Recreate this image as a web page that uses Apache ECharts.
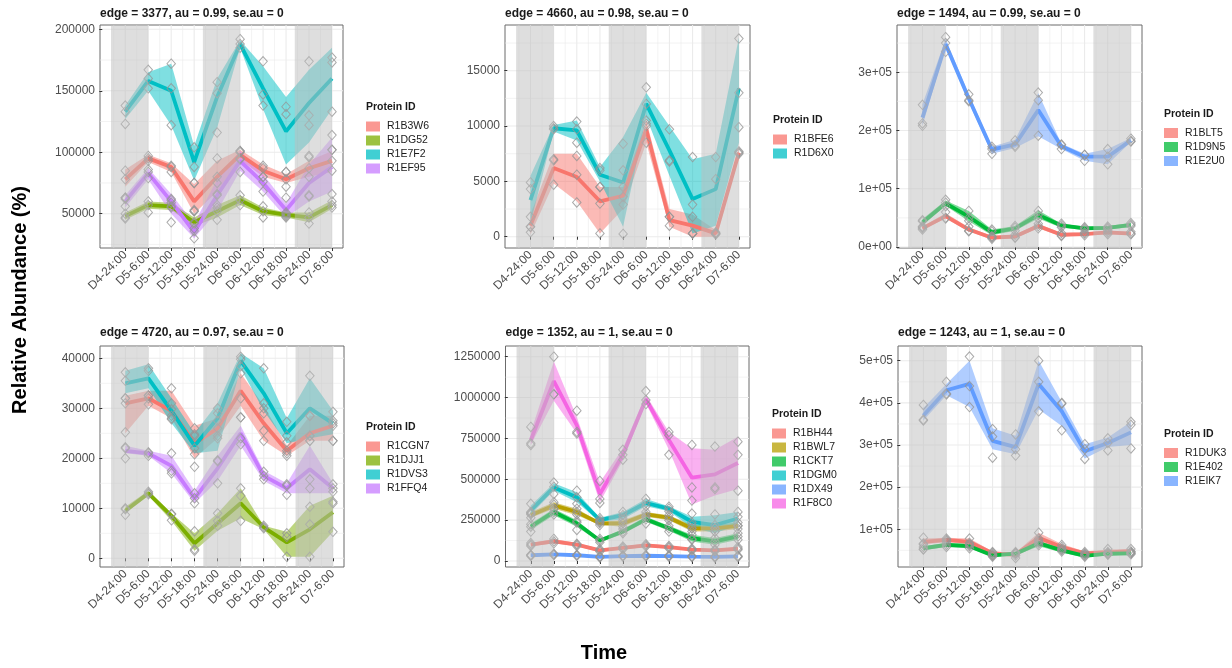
<!DOCTYPE html>
<html>
<head>
<meta charset="utf-8">
<script src="https://cdn.jsdelivr.net/npm/echarts@6/dist/echarts.min.js"></script>
<style>
html, body { margin: 0; padding: 0; background: #fff; }
#chart { width: 1232px; height: 668px; }
</style>
</head>
<body>
<div id="chart"></div>
<script>
// shared x axis
const times = ['D4-24:00', 'D5-6:00', 'D5-12:00', 'D5-18:00', 'D5-24:00', 'D6-6:00', 'D6-12:00', 'D6-18:00', 'D6-24:00', 'D7-6:00'];
const xTicks = [1, 2, 3, 4, 5, 6, 7, 8, 9, 10];
const xMinor = [0.5, 1.5, 2.5, 3.5, 4.5, 5.5, 6.5, 7.5, 8.5, 9.5];
const nightBands = [[0.38, 2], [4.38, 6], [8.38, 10]];

// panel 1
const p1Title = 'edge = 3377, au = 0.99, se.au = 0';
const p1Ids = ['R1B3W6', 'R1DG52', 'R1E7F2', 'R1EF95'];
const p1Mean = [
  [78000, 95000, 88000, 60000, 80000, 98000, 85000, 78000, 87000, 93000],
  [48000, 57000, 56000, 43000, 52000, 61000, 52000, 49000, 47000, 57000],
  [133000, 158000, 150000, 92000, 145000, 188000, 152000, 117000, 140000, 160000],
  [60000, 83000, 60000, 35000, 65000, 93000, 75000, 53000, 75000, 88000]
];
const p1Lo = [
  [72000, 92000, 84000, 50000, 68000, 94000, 80000, 75000, 80000, 84000],
  [45000, 54000, 53000, 40000, 47000, 57000, 49000, 47000, 43000, 54000],
  [127000, 150000, 122000, 77000, 120000, 185000, 135000, 90000, 108000, 135000],
  [55000, 78000, 50000, 30000, 52000, 85000, 68000, 47000, 60000, 68000]
];
const p1Hi = [
  [86000, 98000, 91000, 74000, 93000, 102000, 90000, 82000, 93000, 101000],
  [51000, 60000, 59000, 47000, 57000, 65000, 55000, 51000, 51000, 61000],
  [138000, 165000, 172000, 105000, 160000, 191000, 170000, 145000, 167000, 185000],
  [65000, 87000, 66000, 42000, 78000, 101000, 82000, 58000, 90000, 112000]
];
const p1Pts = [
  [[85000, 78000, 63000], [97000, 95000, 93000], [89000, 88000, 84000], [75000, 52000, 53000], [95000, 80000, 66000], [101000, 100000, 95000], [89000, 87000, 80000], [84000, 78000, 72000], [97000, 87000, 80000], [102000, 93000, 85000]],
  [[50000, 47000, 46000], [60000, 57000, 51000], [59000, 56000, 55000], [52000, 43000, 42000], [57000, 52000, 45000], [65000, 61000, 57000], [56000, 52000, 47000], [51000, 49000, 48000], [51000, 47000, 42000], [60000, 57000, 55000]],
  [[138000, 133000, 123000], [167000, 160000, 152000], [172000, 152000, 122000], [104000, 88000, 75000], [157000, 148000, 116000], [192000, 188000, 185000], [174000, 147000, 138000], [137000, 131000, 84000], [174000, 130000, 122000], [177000, 173000, 133000]],
  [[63000, 62000, 56000], [86000, 84000, 79000], [62000, 61000, 43000], [38000, 36000, 30000], [75000, 65000, 55000], [101000, 94000, 84000], [80000, 76000, 68000], [63000, 50000, 47000], [96000, 65000, 64000], [114000, 102000, 66000]]
];
const p1YTicks = [50000, 100000, 150000, 200000];
const p1YLabels = ['50000', '100000', '150000', '200000'];
const p1YMinor = [25000, 75000, 125000, 175000];

// panel 2
const p2Title = 'edge = 4660, au = 0.98, se.au = 0';
const p2Ids = ['R1BFE6', 'R1D6X0'];
const p2Mean = [
  [1000, 6200, 5400, 3200, 3700, 9700, 1500, 1000, 300, 7600],
  [3300, 9800, 9600, 5600, 4900, 12000, 7800, 3400, 4300, 13400]
];
const p2Lo = [
  [200, 4800, 3200, 300, 2500, 8500, 900, 0, 0, 7300],
  [1200, 9500, 8700, 5000, 900, 10800, 5500, 300, 1000, 8500]
];
const p2Hi = [
  [2000, 7500, 7500, 4500, 4500, 10500, 2500, 2000, 600, 8000],
  [5500, 10100, 10500, 6300, 9000, 13000, 10000, 7000, 7500, 18000]
];
const p2Pts = [
  [[1800, 900, 400], [7000, 6900, 4700], [7300, 5600, 3100], [4500, 3000, 300], [4500, 3600, 2900], [10200, 10000, 8500], [1800, 1800, 1000], [1800, 300, 300], [400, 300, 200], [7700, 7600, 7500]],
  [[4900, 4300, 900], [10000, 9800, 9700], [10400, 9700, 8500], [6200, 6000, 4500], [8400, 6000, 250], [13500, 12000, 10500], [9700, 6900, 6800], [7200, 2900, 300], [7200, 5200, 300], [17900, 13000, 9900]]
];
const p2YTicks = [0, 5000, 10000, 15000];
const p2YLabels = ['0', '5000', '10000', '15000'];
const p2YMinor = [2500, 7500, 12500, 17500];

// panel 3
const p3Title = 'edge = 1494, au = 0.99, se.au = 0';
const p3Ids = ['R1BLT5', 'R1D9N5', 'R1E2U0'];
const p3Mean = [
  [32000, 53000, 30000, 16000, 18000, 36000, 21000, 22000, 25000, 23000],
  [42000, 75000, 52000, 25000, 32000, 55000, 37000, 32000, 33000, 38000],
  [222000, 348000, 255000, 167000, 176000, 235000, 173000, 155000, 155000, 183000]
];
const p3Lo = [
  [30000, 49000, 27000, 13000, 15000, 32000, 18000, 20000, 22000, 20000],
  [37000, 71000, 44000, 20000, 28000, 49000, 33000, 29000, 30000, 34000],
  [208000, 343000, 248000, 160000, 170000, 190000, 168000, 148000, 142000, 180000]
];
const p3Hi = [
  [35000, 58000, 34000, 19000, 21000, 40000, 24000, 25000, 28000, 26000],
  [48000, 80000, 62000, 30000, 36000, 63000, 40000, 35000, 36000, 41000],
  [245000, 357000, 262000, 172000, 184000, 264000, 177000, 160000, 168000, 187000]
];
const p3Pts = [
  [[35000, 32000, 30000], [60000, 50000, 49000], [35000, 28000, 27000], [18000, 16000, 14000], [21000, 17000, 16000], [40000, 36000, 32000], [24000, 20000, 19000], [25000, 23000, 20000], [28000, 25000, 22000], [26000, 23000, 22000]],
  [[46000, 44000, 34000], [81000, 76000, 70000], [62000, 50000, 45000], [30000, 27000, 18000], [36000, 33000, 28000], [62000, 55000, 49000], [40000, 37000, 34000], [34000, 32000, 30000], [35000, 33000, 31000], [41000, 38000, 36000]],
  [[244000, 212000, 208000], [360000, 350000, 335000], [262000, 250000, 252000], [168000, 172000, 160000], [183000, 172000, 174000], [265000, 252000, 191000], [175000, 168000, 176000], [158000, 148000, 158000], [168000, 155000, 142000], [186000, 181000, 182000]]
];
const p3YTicks = [0, 100000, 200000, 300000];
const p3YLabels = ['0e+00', '1e+05', '2e+05', '3e+05'];
const p3YMinor = [50000, 150000, 250000, 350000];

// panel 4
const p4Title = 'edge = 4720, au = 0.97, se.au = 0';
const p4Ids = ['R1CGN7', 'R1DJJ1', 'R1DVS3', 'R1FFQ4'];
const p4Mean = [
  [31000, 32000, 29500, 23000, 26000, 33500, 27000, 21500, 25000, 26500],
  [9500, 13000, 8500, 3000, 7000, 11000, 6200, 3200, 5800, 9200],
  [35000, 36000, 29500, 22500, 28000, 39500, 33000, 25000, 30000, 27000],
  [21500, 21000, 18500, 12000, 18000, 25000, 16500, 14000, 17800, 14000]
];
const p4Lo = [
  [25000, 30500, 28000, 20000, 24000, 30500, 23500, 20500, 23500, 23500],
  [9000, 12500, 7500, 1500, 5500, 8000, 5800, 300, 300, 5300],
  [33000, 34000, 27000, 21000, 21500, 38000, 29500, 23000, 24000, 24800],
  [21000, 20500, 17000, 11000, 15500, 22500, 15500, 13000, 13000, 13000]
];
const p4Hi = [
  [32500, 33500, 33500, 26500, 28000, 37000, 30500, 22500, 28500, 28500],
  [10300, 13500, 9000, 5000, 9000, 14000, 6500, 5300, 10500, 12500],
  [37500, 38800, 32000, 25000, 31000, 41000, 38000, 28000, 36000, 29500],
  [22500, 21500, 20500, 13500, 20500, 26500, 17500, 15000, 22500, 15000]
];
const p4Pts = [
  [[32000, 31000, 25200], [32500, 32000, 30800], [34000, 28500, 28000], [26000, 24500, 18300], [27500, 26000, 24000], [37000, 32000, 28200], [30000, 25500, 23500], [21500, 21000, 20500], [28500, 24500, 23500], [27500, 26500, 23500]],
  [[10000, 9800, 8700], [13300, 13000, 12800], [8900, 8800, 7600], [5400, 1800, 1500], [9000, 7500, 6500], [14000, 12500, 7500], [6500, 6200, 6000], [5000, 4300, 300], [10300, 6800, 300], [11300, 11000, 5300]],
  [[37200, 35500, 32000], [38000, 37500, 32600], [31000, 29800, 27800], [24800, 22000, 20800], [29000, 30000, 24500], [40300, 39800, 38400], [38000, 31000, 29000], [27300, 24500, 23200], [36500, 28500, 24500], [29300, 27000, 23500]],
  [[22200, 22000, 20000], [21200, 21000, 20500], [21000, 17500, 17000], [13000, 12000, 11000], [19400, 19600, 15000], [28200, 24000, 22800], [17300, 16500, 15800], [14800, 14500, 12700], [23500, 15800, 14000], [14800, 14000, 13300]]
];
const p4YTicks = [0, 10000, 20000, 30000, 40000];
const p4YLabels = ['0', '10000', '20000', '30000', '40000'];
const p4YMinor = [5000, 15000, 25000, 35000];

// panel 5
const p5Title = 'edge = 1352, au = 1, se.au = 0';
const p5Ids = ['R1BH44', 'R1BWL7', 'R1CKT7', 'R1DGM0', 'R1DX49', 'R1F8C0'];
const p5Mean = [
  [100000, 120000, 100000, 65000, 80000, 95000, 85000, 70000, 65000, 75000],
  [280000, 340000, 300000, 230000, 230000, 285000, 265000, 200000, 200000, 215000],
  [210000, 300000, 230000, 125000, 180000, 255000, 200000, 140000, 120000, 150000],
  [310000, 450000, 390000, 250000, 280000, 355000, 320000, 240000, 220000, 260000],
  [35000, 40000, 35000, 25000, 30000, 32000, 30000, 27000, 25000, 28000],
  [740000, 1100000, 830000, 410000, 650000, 990000, 740000, 510000, 530000, 600000]
];
const p5Lo = [
  [90000, 108000, 90000, 55000, 70000, 85000, 75000, 62000, 58000, 66000],
  [265000, 320000, 280000, 220000, 210000, 270000, 250000, 180000, 180000, 195000],
  [190000, 280000, 210000, 115000, 165000, 240000, 185000, 120000, 100000, 130000],
  [285000, 430000, 360000, 240000, 255000, 335000, 305000, 205000, 170000, 220000],
  [30000, 35000, 30000, 20000, 25000, 27000, 25000, 22000, 20000, 23000],
  [710000, 980000, 780000, 360000, 615000, 965000, 680000, 345000, 400000, 440000]
];
const p5Hi = [
  [110000, 135000, 110000, 75000, 90000, 105000, 95000, 78000, 72000, 85000],
  [300000, 360000, 320000, 240000, 250000, 300000, 280000, 220000, 220000, 235000],
  [230000, 320000, 250000, 135000, 195000, 270000, 215000, 160000, 140000, 170000],
  [340000, 475000, 420000, 265000, 300000, 380000, 335000, 270000, 280000, 300000],
  [40000, 45000, 40000, 30000, 35000, 37000, 35000, 32000, 30000, 33000],
  [790000, 1220000, 880000, 480000, 690000, 1015000, 790000, 690000, 680000, 760000]
];
const p5Pts = [
  [[110000, 100000, 92000], [135000, 120000, 108000], [105000, 100000, 92000], [72000, 65000, 58000], [88000, 80000, 72000], [103000, 96000, 88000], [92000, 85000, 78000], [76000, 70000, 64000], [71000, 65000, 60000], [85000, 75000, 68000]],
  [[295000, 285000, 265000], [360000, 345000, 320000], [320000, 300000, 285000], [240000, 232000, 220000], [250000, 232000, 210000], [300000, 285000, 270000], [280000, 265000, 250000], [220000, 200000, 180000], [220000, 200000, 180000], [235000, 215000, 195000]],
  [[225000, 210000, 180000], [320000, 300000, 285000], [245000, 235000, 190000], [135000, 125000, 115000], [195000, 180000, 170000], [270000, 255000, 230000], [215000, 200000, 180000], [160000, 135000, 130000], [140000, 120000, 100000], [170000, 150000, 130000]],
  [[350000, 300000, 290000], [480000, 455000, 410000], [430000, 390000, 350000], [262000, 250000, 240000], [300000, 280000, 262000], [380000, 355000, 335000], [332000, 320000, 305000], [290000, 235000, 200000], [285000, 200000, 180000], [300000, 270000, 215000]],
  [[38000, 35000, 31000], [44000, 40000, 36000], [38000, 35000, 32000], [28000, 25000, 22000], [33000, 30000, 27000], [36000, 32000, 28000], [34000, 30000, 26000], [30000, 27000, 24000], [28000, 25000, 22000], [31000, 28000, 25000]],
  [[820000, 720000, 710000], [1250000, 1020000, 1020000], [920000, 790000, 780000], [490000, 380000, 355000], [680000, 650000, 620000], [1040000, 985000, 960000], [770000, 790000, 650000], [710000, 450000, 370000], [700000, 440000, 450000], [730000, 650000, 430000]]
];
const p5YTicks = [0, 250000, 500000, 750000, 1000000, 1250000];
const p5YLabels = ['0', '250000', '500000', '750000', '1000000', '1250000'];
const p5YMinor = [125000, 375000, 625000, 875000, 1125000];

// panel 6
const p6Title = 'edge = 1243, au = 1, se.au = 0';
const p6Ids = ['R1DUK3', 'R1E402', 'R1EIK7'];
const p6Mean = [
  [70000, 75000, 70000, 43000, 40000, 80000, 58000, 43000, 45000, 48000],
  [55000, 63000, 60000, 38000, 42000, 67000, 50000, 37000, 42000, 43000],
  [370000, 430000, 445000, 310000, 295000, 445000, 380000, 285000, 305000, 330000]
];
const p6Lo = [
  [64000, 70000, 64000, 38000, 34000, 70000, 50000, 38000, 40000, 44000],
  [50000, 58000, 55000, 35000, 38000, 60000, 45000, 33000, 38000, 40000],
  [358000, 418000, 390000, 290000, 278000, 385000, 345000, 268000, 295000, 300000]
];
const p6Hi = [
  [78000, 80000, 78000, 47000, 45000, 92000, 65000, 47000, 52000, 53000],
  [60000, 68000, 65000, 42000, 46000, 73000, 55000, 41000, 46000, 46000],
  [388000, 445000, 500000, 340000, 322000, 500000, 402000, 302000, 318000, 355000]
];
const p6Pts = [
  [[80000, 66000, 64000], [78000, 75000, 72000], [78000, 68000, 64000], [46000, 44000, 38000], [44000, 43000, 32000], [92000, 78000, 70000], [63000, 58000, 52000], [46000, 43000, 40000], [53000, 44000, 40000], [53000, 47000, 44000]],
  [[58000, 53000, 52000], [68000, 63000, 58000], [64000, 60000, 55000], [41000, 38000, 35000], [46000, 42000, 38000], [73000, 66000, 62000], [54000, 50000, 47000], [40000, 37000, 35000], [46000, 42000, 40000], [46000, 43000, 41000]],
  [[395000, 360000, 358000], [450000, 420000, 422000], [510000, 440000, 390000], [338000, 320000, 270000], [325000, 290000, 275000], [500000, 450000, 380000], [400000, 398000, 335000], [302000, 290000, 267000], [316000, 305000, 287000], [355000, 348000, 292000]]
];
const p6YTicks = [100000, 200000, 300000, 400000, 500000];
const p6YLabels = ['1e+05', '2e+05', '3e+05', '4e+05', '5e+05'];
const p6YMinor = [50000, 150000, 250000, 350000, 450000];

// ggplot hue palettes
const hue2 = ['#F8766D', '#00BFC4'];
const hue3 = ['#F8766D', '#00BA38', '#619CFF'];
const hue4 = ['#F8766D', '#7CAE00', '#00BFC4', '#C77CFF'];
const hue6 = ['#F8766D', '#B79F00', '#00BA38', '#00BFC4', '#619CFF', '#F564E3'];

const FONT = '"Liberation Sans", Arial, Helvetica, sans-serif';

const panels = [
  { title: p1Title, ids: p1Ids, mean: p1Mean, lo: p1Lo, hi: p1Hi, pts: p1Pts, yTicks: p1YTicks, yLabels: p1YLabels, yMinor: p1YMinor, colors: hue4,
    box: [100, 25, 243, 223], yRange: [22100, 203500], legendX: 366, legendTitleY: 107.5 },
  { title: p2Title, ids: p2Ids, mean: p2Mean, lo: p2Lo, hi: p2Hi, pts: p2Pts, yTicks: p2YTicks, yLabels: p2YLabels, yMinor: p2YMinor, colors: hue2,
    box: [505, 25, 245, 223], yRange: [-1020, 19130], legendX: 773, legendTitleY: 120.5 },
  { title: p3Title, ids: p3Ids, mean: p3Mean, lo: p3Lo, hi: p3Hi, pts: p3Pts, yTicks: p3YTicks, yLabels: p3YLabels, yMinor: p3YMinor, colors: hue3,
    box: [897, 25, 245, 223], yRange: [-1700, 381000], legendX: 1164, legendTitleY: 114 },
  { title: p4Title, ids: p4Ids, mean: p4Mean, lo: p4Lo, hi: p4Hi, pts: p4Pts, yTicks: p4YTicks, yLabels: p4YLabels, yMinor: p4YMinor, colors: hue4,
    box: [100, 346, 244, 221], yRange: [-1740, 42460], legendX: 366, legendTitleY: 427.5 },
  { title: p5Title, ids: p5Ids, mean: p5Mean, lo: p5Lo, hi: p5Hi, pts: p5Pts, yTicks: p5YTicks, yLabels: p5YLabels, yMinor: p5YMinor, colors: hue6,
    box: [505.5, 346, 243.5, 221], yRange: [-36800, 1315600], legendX: 772, legendTitleY: 414.5 },
  { title: p6Title, ids: p6Ids, mean: p6Mean, lo: p6Lo, hi: p6Hi, pts: p6Pts, yTicks: p6YTicks, yLabels: p6YLabels, yMinor: p6YMinor, colors: hue3,
    box: [898, 346, 244, 221], yRange: [10500, 535000], legendX: 1164, legendTitleY: 434 }
];

const grids = [], xAxes = [], yAxes = [], series = [], legends = [], graphics = [];

panels.forEach((p, k) => {
  const [gl, gt, gw, gh] = p.box;
  grids.push({ left: gl, top: gt, width: gw, height: gh, show: true, backgroundColor: '#fff', borderColor: '#6b6b6b', borderWidth: 1 });

  xAxes.push({
    type: 'value', gridIndex: k, min: -0.1, max: 10.48,
    axisLine: { show: false }, splitLine: { show: false },
    axisTick: { show: true, customValues: xTicks, length: 3, lineStyle: { color: '#333' } },
    axisLabel: { customValues: xTicks, rotate: 45, margin: 5, fontSize: 12, color: '#4d4d4d', fontFamily: FONT,
      formatter: v => times[Math.round(v) - 1] || '' }
  });
  yAxes.push({
    type: 'value', gridIndex: k, min: p.yRange[0], max: p.yRange[1],
    axisLine: { show: false }, splitLine: { show: false },
    axisTick: { show: true, customValues: p.yTicks, length: 3, lineStyle: { color: '#333' } },
    axisLabel: { customValues: p.yTicks, margin: 5, fontSize: 12, color: '#4d4d4d', fontFamily: FONT,
      formatter: v => { const i = p.yTicks.indexOf(v); return i >= 0 ? p.yLabels[i] : String(v); } }
  });

  // background grid lines
  series.push({
    type: 'custom', xAxisIndex: k, yAxisIndex: k, silent: true, z: 0,
    data: [[1, p.yTicks[0]]],
    renderItem: (params, api) => {
      const cs = params.coordSys;
      const children = [];
      const vline = (v, w) => {
        const x = api.coord([v, p.yTicks[0]])[0];
        if (x > cs.x && x < cs.x + cs.width)
          children.push({ type: 'line', shape: { x1: x, y1: cs.y, x2: x, y2: cs.y + cs.height }, style: { stroke: '#ebebeb', lineWidth: w } });
      };
      const hline = (v, w) => {
        const y = api.coord([1, v])[1];
        if (y > cs.y && y < cs.y + cs.height)
          children.push({ type: 'line', shape: { x1: cs.x, y1: y, x2: cs.x + cs.width, y2: y }, style: { stroke: '#ebebeb', lineWidth: w } });
      };
      xMinor.forEach(v => vline(v, 0.6));
      p.yMinor.forEach(v => hline(v, 0.6));
      xTicks.forEach(v => vline(v, 1.1));
      p.yTicks.forEach(v => hline(v, 1.1));
      return { type: 'group', children };
    }
  });

  p.ids.forEach((id, j) => {
    const color = p.colors[j];
    // ribbon
    series.push({
      type: 'custom', xAxisIndex: k, yAxisIndex: k, silent: true, z: 1,
      data: [[1, p.mean[j][0]]],
      renderItem: (params, api) => {
        const pts = [];
        p.hi[j].forEach((v, i) => pts.push(api.coord([i + 1, v])));
        for (let i = p.lo[j].length - 1; i >= 0; i--) pts.push(api.coord([i + 1, p.lo[j][i]]));
        return { type: 'polygon', shape: { points: pts }, style: { fill: color, opacity: 0.5 } };
      }
    });
    // mean line
    series.push({
      type: 'line', name: id, xAxisIndex: k, yAxisIndex: k, z: 2,
      data: p.mean[j].map((v, i) => [i + 1, v]),
      showSymbol: false, symbol: 'none', color: color,
      lineStyle: { width: 3.8, color: color }, itemStyle: { color: color }
    });
  });

  // replicate points
  const scatter = [];
  p.pts.forEach(prot => prot.forEach((trip, i) => trip.forEach(v => scatter.push([i + 1, v]))));
  series.push({
    type: 'scatter', xAxisIndex: k, yAxisIndex: k, z: 3, silent: true,
    data: scatter, symbol: 'diamond', symbolSize: [8.5, 9.5],
    itemStyle: { color: 'rgba(255,255,255,0)', borderColor: '#959595', borderWidth: 1 }
  });

  // night shading bands
  series.push({
    type: 'custom', xAxisIndex: k, yAxisIndex: k, silent: true, z: 4,
    data: nightBands,
    renderItem: (params, api) => {
      const cs = params.coordSys;
      const x0 = api.coord([api.value(0), p.yTicks[0]])[0];
      const x1 = api.coord([api.value(1), p.yTicks[0]])[0];
      return { type: 'rect', shape: { x: x0, y: cs.y, width: x1 - x0, height: cs.height }, style: { fill: 'rgba(190,190,190,0.5)' } };
    }
  });

  // panel title
  graphics.push({ type: 'text', x: gl, y: k < 3 ? 14 : 333, style: { text: p.title, font: 'bold 12px ' + FONT, fill: '#1a1a1a', align: 'left', verticalAlign: 'middle' } });
  // legend title
  graphics.push({ type: 'text', x: p.legendX, y: p.legendTitleY, style: { text: 'Protein ID', font: 'bold 10.5px ' + FONT, fill: '#1a1a1a', align: 'left', verticalAlign: 'middle' } });

  legends.push({
    data: p.ids, orient: 'vertical', left: p.legendX, top: p.legendTitleY + 13.5,
    icon: 'rect', itemWidth: 14, itemHeight: 10, itemGap: 3, padding: 0, selectedMode: false,
    itemStyle: { opacity: 0.75 },
    textStyle: { fontSize: 10.5, lineHeight: 10, color: '#1a1a1a', fontFamily: FONT, padding: [0, 0, 0, 2] }
  });
});

// overall axis titles
graphics.push({ type: 'text', x: 20, y: 300, rotation: Math.PI / 2, style: { text: 'Relative Abundance (%)', font: 'bold 20px ' + FONT, fill: '#000', align: 'center', verticalAlign: 'middle' } });
graphics.push({ type: 'text', x: 604, y: 653, style: { text: 'Time', font: 'bold 20px ' + FONT, fill: '#000', align: 'center', verticalAlign: 'middle' } });

const chart = echarts.init(document.getElementById('chart'), null, { renderer: 'canvas' });
chart.setOption({
  animation: false,
  backgroundColor: '#fff',
  textStyle: { fontFamily: FONT },
  grid: grids,
  xAxis: xAxes,
  yAxis: yAxes,
  legend: legends,
  series: series,
  graphic: graphics
});
</script>
</body>
</html>
